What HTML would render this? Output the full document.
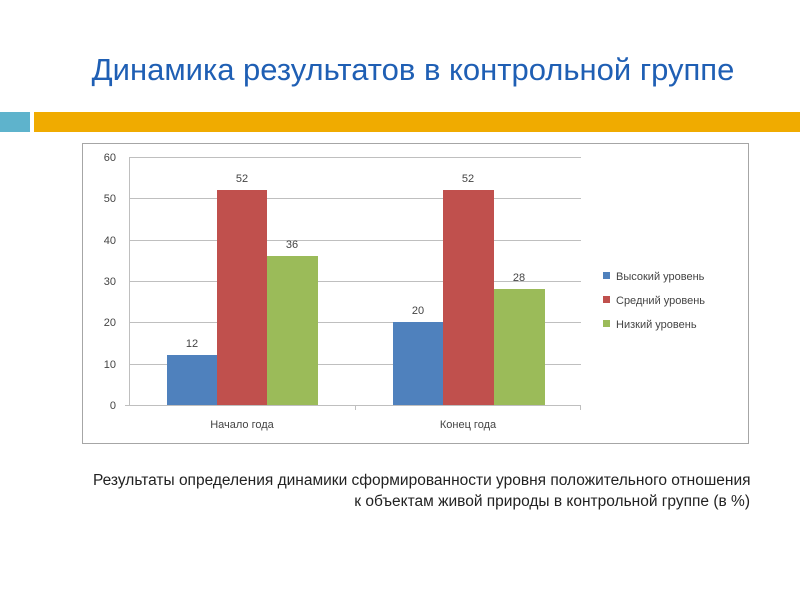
<!DOCTYPE html>
<html><head><meta charset="utf-8"><style>
body{margin:0;width:800px;height:600px;background:#fff;font-family:"Liberation Sans",sans-serif;position:relative;overflow:hidden}
.t{position:absolute;left:0;width:800px;text-align:center;top:52px;font-size:31px;color:#1f5fb4}
</style></head><body>
<div class="t" style="left:13px">Динамика результатов в контрольной группе</div>
<div style="position:absolute;left:0;top:112px;width:30px;height:20px;background:#5eb3cc"></div>
<div style="position:absolute;left:34px;top:112px;width:766px;height:20px;background:#f0ab00"></div>
<svg style="position:absolute;left:0;top:0" width="800" height="600" font-family="Liberation Sans, sans-serif">
<rect x="82.5" y="143.5" width="666" height="300" fill="#fff" stroke="#a6a6a6"/>
<g stroke="#bfbfbf" stroke-width="1">
<line x1="129" y1="157.5" x2="581" y2="157.5"/><line x1="129" y1="198.5" x2="581" y2="198.5"/>
<line x1="129" y1="240.5" x2="581" y2="240.5"/><line x1="129" y1="281.5" x2="581" y2="281.5"/>
<line x1="129" y1="322.5" x2="581" y2="322.5"/><line x1="129" y1="364.5" x2="581" y2="364.5"/>
<line x1="129.5" y1="157" x2="129.5" y2="405"/><line x1="125" y1="405.5" x2="581" y2="405.5"/>
<line x1="355.5" y1="405" x2="355.5" y2="410"/><line x1="580.5" y1="405" x2="580.5" y2="410"/>
</g>
<g font-size="11" fill="#444" text-anchor="end">
<text x="116" y="161">60</text><text x="116" y="202">50</text><text x="116" y="244">40</text>
<text x="116" y="285">30</text><text x="116" y="326">20</text><text x="116" y="368">10</text><text x="116" y="409">0</text>
</g>
<rect x="167" y="355" width="50" height="50" fill="#4f81bd"/>
<rect x="217" y="190" width="50" height="215" fill="#c0504d"/>
<rect x="267" y="256" width="51" height="149" fill="#9bbb59"/>
<rect x="393" y="322" width="50" height="83" fill="#4f81bd"/>
<rect x="443" y="190" width="51" height="215" fill="#c0504d"/>
<rect x="494" y="289" width="51" height="116" fill="#9bbb59"/>
<g font-size="11" fill="#444" text-anchor="middle">
<text x="192" y="347">12</text><text x="242" y="182">52</text><text x="292" y="248">36</text>
<text x="418" y="314">20</text><text x="468" y="182">52</text><text x="519" y="281">28</text>
<text x="242" y="428">Начало года</text><text x="468" y="428">Конец года</text>
</g>
<rect x="603" y="272" width="7" height="7" fill="#4f81bd"/>
<rect x="603" y="296" width="7" height="7" fill="#c0504d"/>
<rect x="603" y="320" width="7" height="7" fill="#9bbb59"/>
<g font-size="11" fill="#444">
<text x="616" y="280">Высокий уровень</text><text x="616" y="304">Средний уровень</text><text x="616" y="328">Низкий уровень</text>
</g>
</svg>
<div style="position:absolute;left:93px;top:472px;font-size:15.5px;color:#222;white-space:nowrap">Результаты определения динамики сформированности уровня положительного отношения</div>
<div style="position:absolute;right:50px;top:493px;font-size:15.5px;color:#222;white-space:nowrap">к объектам живой природы в контрольной группе (в %)</div>
</body></html>
